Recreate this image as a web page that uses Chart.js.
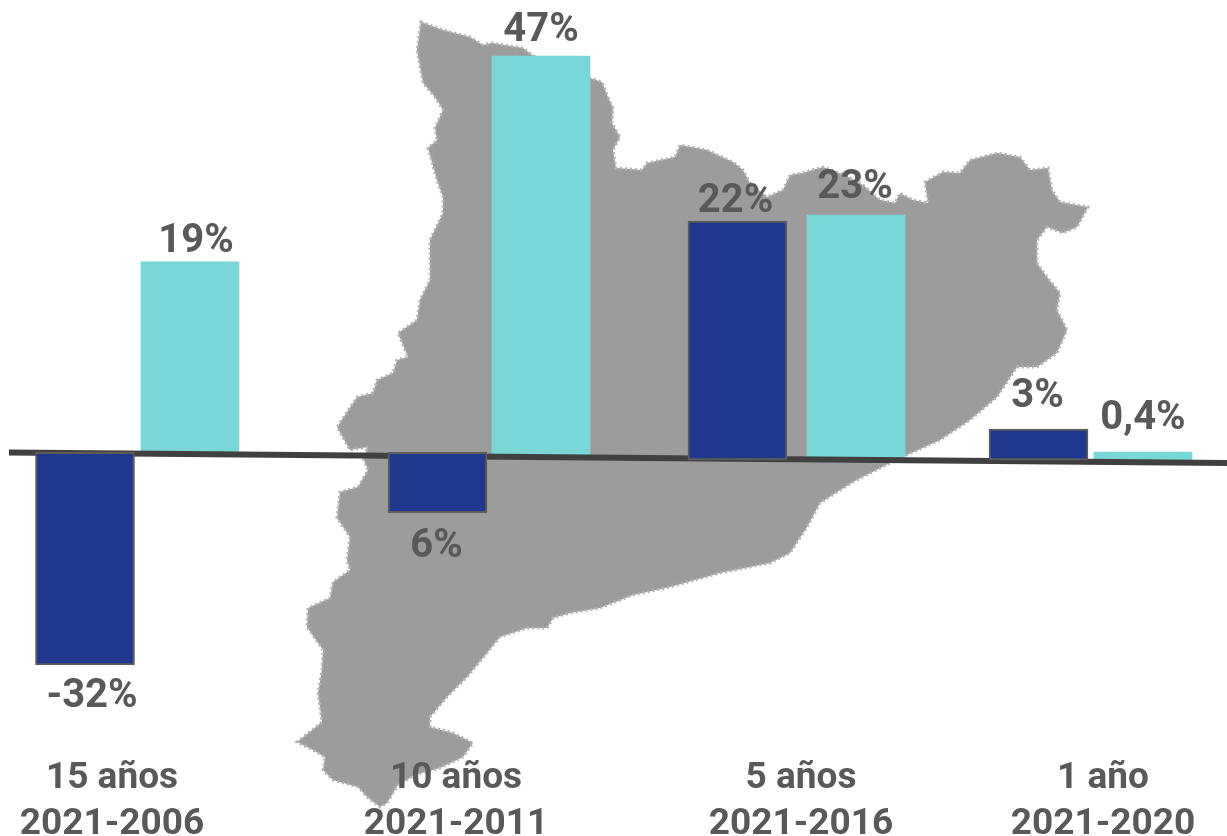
<!DOCTYPE html>
<html>
<head>
<meta charset="utf-8">
<title>Catalunya</title>
<script src="https://cdn.jsdelivr.net/npm/chart.js@4"></script>
<style>
  html, body { margin: 0; padding: 0; background: #fff; overflow: hidden; }
  #wrap { width: 1227px; height: 836px; }
</style>
</head>
<body>
<div id="wrap"><canvas id="chart"></canvas></div>
<script>
const periodNames = ["15 años", "10 años", "5 años", "1 año"];
const periodSpans = ["2021-2006", "2021-2011", "2021-2016", "2021-2020"];
const periodTicks = [112, 456, 801, 1103];

// the printed labels, the bars in the source are not drawn to one scale
const navyLabels = ["-32%", "6%", "22%", "3%"];
const tealLabels = ["19%", "47%", "23%", "0,4%"];

// bars, they stand on a tilted baseline so they float
const navyX = [85, 437.5, 737.5, 1038.5];
const navyFrom = [0, 0, -0.9, -0.9];
const navyTo = [-25, -7.1, 27.2, 2.75];
const tealX = [190, 541, 856, 1143];
const tealFrom = [0, -0.4, -0.7, -0.9];
const tealTo = [22.4, 46.6, 27.9, 0.05];

const baselineX = [9, 1227];
const baselineY = [0, -1.25];

// silhouette behind the bars (Catalunya), canvas pixels
const mapOutline = [
  [421,22],[443,30],[470,37],[483,45],[492,43],[523,48],[532,55],[590,78],[602,82],[608,97],
  [613,108],[612,123],[620,137],[613,150],[616,168],[642,170],[647,163],[675,157],[680,145],[707,150],
  [733,162],[743,170],[750,183],[767,197],[783,190],[790,175],[802,173],[823,167],[845,175],[863,185],
  [880,200],[895,203],[900,193],[913,200],[928,203],[925,182],[943,172],[960,173],[970,160],[997,153],
  [1020,157],[1030,170],[1048,168],[1052,190],[1060,202],[1088,207],[1077,227],[1063,233],[1047,227],[1037,240],
  [1037,263],[1047,277],[1060,293],[1057,310],[1067,330],[1057,353],[1037,367],[1017,367],[997,397],[970,420],
  [940,440],[907,455],[890,463],[853,482],[820,503],[807,527],[790,553],[770,563],[720,573],[670,587],
  [633,595],[600,608],[570,613],[553,618],[547,628],[527,628],[500,637],[487,653],[467,677],[447,697],
  [430,717],[430,727],[453,733],[473,743],[463,757],[440,768],[415,775],[398,785],[387,803],[380,807],
  [367,797],[358,787],[333,780],[323,770],[325,757],[313,750],[297,742],[322,722],[318,693],[322,670],
  [323,650],[307,627],[308,608],[330,598],[333,582],[350,570],[347,560],[350,537],[337,518],[340,492],
  [358,487],[368,470],[363,458],[368,447],[350,450],[337,427],[357,397],[373,393],[377,380],[393,373],
  [397,360],[408,357],[398,333],[417,320],[420,300],[430,280],[430,240],[443,213],[443,197],[437,180],
  [428,148],[437,140],[435,128],[443,110],[435,97],[423,83],[417,50]
];

const inkColor = "#595959";
const labelFont = "bold 40px Roboto";
const navyShift = [[7, 32], [-1, 34], [-2, -19], [-1, -32]];
const tealShift = [[6, -20], [0, -25], [-1, -27], [0, -33]];

const mapPlugin = {
  id: "mapBackground",
  beforeDraw(chart) {
    const ctx = chart.ctx;
    ctx.save();
    ctx.beginPath();
    mapOutline.forEach(([x, y], i) => (i ? ctx.lineTo(x, y) : ctx.moveTo(x, y)));
    ctx.closePath();
    ctx.fillStyle = "#9c9c9c";
    ctx.fill();
    // speckled edge, the source map is a rough bitmap
    ctx.lineWidth = 3;
    ctx.setLineDash([2, 3]);
    ctx.strokeStyle = "#b4b4b4";
    ctx.stroke();
    ctx.restore();
  },
};

const labelPlugin = {
  id: "barLabels",
  afterDatasetsDraw(chart) {
    const ctx = chart.ctx;
    const { x, y } = chart.scales;
    ctx.save();
    ctx.font = labelFont;
    ctx.fillStyle = inkColor;
    ctx.textAlign = "center";
    ctx.textBaseline = "middle";
    navyLabels.forEach((text, i) => {
      ctx.fillText(text, x.getPixelForValue(navyX[i]) + navyShift[i][0], y.getPixelForValue(navyTo[i]) + navyShift[i][1]);
    });
    tealLabels.forEach((text, i) => {
      ctx.fillText(text, x.getPixelForValue(tealX[i]) + tealShift[i][0], y.getPixelForValue(tealTo[i]) + tealShift[i][1]);
    });
    ctx.restore();
  },
};

new Chart(document.getElementById("chart"), {
  type: "bar",
  data: {
    datasets: [
      {
        label: "navy",
        order: 0,
        data: navyX.map((x, i) => ({ x, y: [navyFrom[i], navyTo[i]] })),
        backgroundColor: "#1f388e",
        borderColor: "#5c5c5c",
        borderWidth: 2,
        borderSkipped: false,
        barThickness: 99,
        grouped: false,
      },
      {
        type: "line",
        label: "baseline",
        order: 1,
        data: baselineX.map((x, i) => ({ x, y: baselineY[i] })),
        borderColor: "#404040",
        borderWidth: 6,
        pointRadius: 0,
        tension: 0,
      },
      {
        label: "teal",
        order: 2,
        data: tealX.map((x, i) => ({ x, y: [tealFrom[i], tealTo[i]] })),
        backgroundColor: "#7bd7d7",
        borderWidth: 0,
        barThickness: 98,
        grouped: false,
      },
    ],
  },
  options: {
    responsive: true,
    maintainAspectRatio: false,
    animation: false,
    layout: { padding: 0 },
    plugins: { legend: { display: false }, tooltip: { enabled: false } },
    scales: {
      x: {
        type: "linear",
        min: 0,
        max: 1227,
        offset: false,
        grid: { display: false },
        border: { display: false },
        afterBuildTicks: (scale) => {
          scale.ticks = periodTicks.map((value) => ({ value }));
        },
        afterFit: (scale) => {
          scale.height = 86;
        },
        ticks: {
          autoSkip: false,
          maxRotation: 0,
          padding: -2,
          color: inkColor,
          font: { family: "Roboto", size: 37, weight: "bold", lineHeight: 1.24 },
          callback: (value) => {
            const i = periodTicks.indexOf(value);
            return [periodNames[i], periodSpans[i]];
          },
        },
      },
      y: { display: false, min: -35, max: 53.2 },
    },
  },
  plugins: [mapPlugin, labelPlugin],
});
</script>
</body>
</html>
